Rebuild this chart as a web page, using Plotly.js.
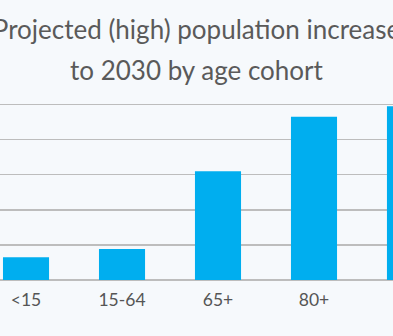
<!DOCTYPE html>
<html><head><meta charset="utf-8">
<script src="https://cdn.plot.ly/plotly-3.0.1.min.js"></script>
<style>html,body{margin:0;padding:0;background:#f6f9fc;overflow:hidden}#chart{width:393px;height:336px}</style>
</head><body><div id="chart"></div>
<script>
const categories = ["<15", "15-64", "65+", "80+", "85+"];
const increase = [0.65, 0.88, 3.1, 4.65, 4.95];
const titleLine1 = "Projected (high) population increase";
const titleLine2 = "to 2030 by age cohort";

const font = "Lato, 'Noto Sans', sans-serif";
Plotly.newPlot("chart", [{
  type: "bar",
  x: categories,
  y: increase,
  width: 0.48,
  marker: {color: "#00aeef"},
  hoverinfo: "none"
}], {
  width: 393, height: 336,
  paper_bgcolor: "#f6f9fc", plot_bgcolor: "#f6f9fc",
  margin: {l: 0, r: 0, t: 101, b: 56},
  showlegend: false,
  title: {text: titleLine1, x: 0.5, xanchor: "center", xref: "paper",
          y: 1 - 30 / 336, yref: "container", yanchor: "middle",
          font: {family: font, size: 26, color: "#5a5a5a"}},
  annotations: [{text: titleLine2, xref: "paper", yref: "paper", x: 0.5, y: 1, yshift: 31,
    xanchor: "center", yanchor: "middle", showarrow: false,
    font: {family: font, size: 26, color: "#5a5a5a"}}],
  xaxis: {type: "category", range: [-0.271, 3.823], showgrid: false, zeroline: false,
          showline: false, ticks: "", ticklabelstandoff: 7,
          tickfont: {family: font, size: 17.5, color: "#555"}},
  yaxis: {range: [0, 5.1], tickvals: [1, 2, 3, 4, 5], showticklabels: false, gridcolor: "#bdbdbd", gridwidth: 1.5,
          zeroline: true, zerolinecolor: "#bdbdbd", zerolinewidth: 1.5, fixedrange: true}
}, {staticPlot: true});
</script></body></html>
